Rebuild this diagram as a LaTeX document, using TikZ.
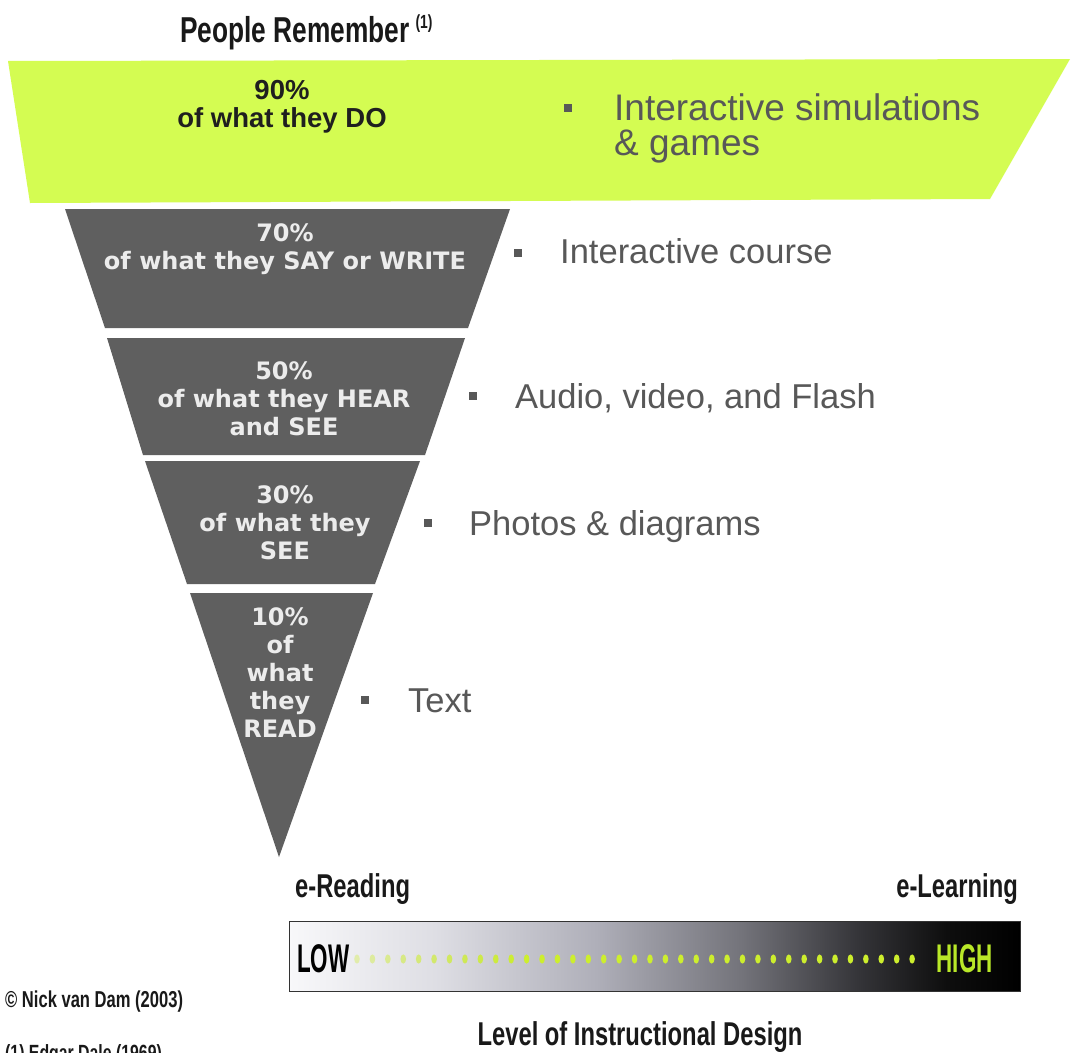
\documentclass[tikz,border=0pt]{standalone}
\usepackage{fontspec}
\setmainfont{Liberation Sans}
\newfontfamily\condfont[FakeStretch=0.72]{Liberation Sans}
\newfontfamily\titlefont[FakeStretch=0.73]{Liberation Sans}
\newfontfamily\narrowfont[FakeStretch=0.56]{Liberation Sans}
\newfontfamily\boxfont{DejaVu Sans}
\definecolor{lime}{RGB}{212,252,82}
\definecolor{slab}{RGB}{95,95,95}
\definecolor{slabtext}{RGB}{236,236,236}
\definecolor{labeltext}{RGB}{88,88,88}
\definecolor{dotc}{RGB}{205,238,45}
\definecolor{highc}{RGB}{185,232,40}
\definecolor{bs0}{RGB}{248,248,250}
\definecolor{bs1}{RGB}{222,222,228}
\definecolor{bs2}{RGB}{175,175,185}
\definecolor{bs3}{RGB}{115,115,122}
\definecolor{bs4}{RGB}{52,52,56}
\definecolor{bs5}{RGB}{14,14,14}
\pgfdeclarehorizontalshading{barshade}{100bp}{color(0bp)=(bs0); color(25bp)=(bs0); color(35bp)=(bs1); color(46bp)=(bs2); color(56bp)=(bs3); color(64bp)=(bs4); color(70bp)=(bs5); color(75bp)=(black); color(100bp)=(black)}
\tikzset{
  slabshape/.style={fill=slab, draw=none},
  slabtxt/.style={text=slabtext, font=\boxfont\bfseries\fontsize{24}{28}\selectfont, align=center, inner sep=0pt},
  greentxt/.style={text=black!88, font=\bfseries\fontsize{27.5}{28}\selectfont, align=center, inner sep=0pt},
  rlabel/.style={text=labeltext, font=\fontsize{34.5}{35}\selectfont, align=left, inner sep=0pt, anchor=base west},
  bulletbox/.style={fill=labeltext, minimum size=8pt, inner sep=0pt, draw=none},
  condtxt/.style={text=black!90, font=\condfont\bfseries\fontsize{33}{36}\selectfont, inner sep=0pt},
  bardot/.style={fill=dotc, draw=none}
}
\begin{document}
\begin{tikzpicture}[x=1pt,y=-1pt]
\useasboundingbox (0,0) rectangle (1073,1052);
\fill[white] (0,0) rectangle (1073,1052);

% title
\node[condtxt, font=\titlefont\bfseries\fontsize{36}{38}\selectfont, anchor=base west] (title) at (180,42) {People Remember\,\raisebox{14pt}{\fontsize{19}{19}\selectfont(1)}};

% green top band
\fill[lime] (8,61) -- (1070,59) -- (990,199) -- (30,203) -- cycle;
\node[greentxt] (t90) at (282,107) {90\%\\of what they DO};
\node[bulletbox] (b90) at (568,108) {};
\node[rlabel, font=\fontsize{37}{35}\selectfont] (l90) at (614,155) {Interactive simulations\\[-0.5pt]\& games};

% gray slabs
\fill[slabshape] (65,209) -- (510,209) -- (468,328) -- (105,328) -- cycle;
\fill[slabshape] (107,338) -- (465,338) -- (425,455) -- (143,455) -- cycle;
\fill[slabshape] (145,461) -- (420,461) -- (375,584) -- (187,584) -- cycle;
\fill[slabshape] (190,593) -- (373,593) -- (279,857) -- cycle;

\node[slabtxt] (t70) at (285,249) {70\%\\of what they SAY or WRITE};
\node[slabtxt] (t50) at (284,399) {50\%\\of what they HEAR\\and SEE};
\node[slabtxt] (t30) at (285,523) {30\%\\of what they\\SEE};
\node[slabtxt] (t10) at (280,673) {10\%\\of\\what\\they\\READ};

% right labels
\node[bulletbox] (b70) at (518,253) {};
\node[rlabel] (l70) at (560,263) {Interactive course};
\node[bulletbox] (b50) at (473,396) {};
\node[rlabel] (l50) at (515,408) {Audio, video, and Flash};
\node[bulletbox] (b30) at (428,523) {};
\node[rlabel] (l30) at (469,535) {Photos \& diagrams};
\node[bulletbox] (b10) at (365,700) {};
\node[rlabel] (l10) at (408,712) {Text};

% bar
\node[condtxt, anchor=base west] (eread) at (295,897) {e-Reading};
\node[condtxt, anchor=base east] (elearn) at (1018,897) {e-Learning};
\shade[shading=barshade, draw=black!80, line width=1pt] (289,921) rectangle (1020,991);
\foreach \i in {0,...,36}{
  \pgfmathsetmacro{\op}{min(1,0.35+\i*0.06)}
  \fill[bardot, opacity=\op] ({357+\i*15.42},959) ellipse (2.8 and 4.6);
}
\node[text=black, font=\narrowfont\bfseries\fontsize{40}{40}\selectfont, inner sep=0pt, anchor=base west] (low) at (297,972) {LOW};
\node[text=highc, font=\narrowfont\bfseries\fontsize{40}{40}\selectfont, inner sep=0pt, anchor=base east] (high) at (993,972) {HIGH};
\node[condtxt, anchor=base] (level) at (640,1045) {Level of Instructional Design};

% footnotes
\node[condtxt, font=\condfont\bfseries\fontsize{23}{24}\selectfont, anchor=base west] (fn1) at (5,1007) {© Nick van Dam (2003)};
\node[condtxt, font=\condfont\bfseries\fontsize{22}{24}\selectfont, anchor=base west] (fn2) at (5,1060) {(1) Edgar Dale (1969)};
\end{tikzpicture}
\end{document}
